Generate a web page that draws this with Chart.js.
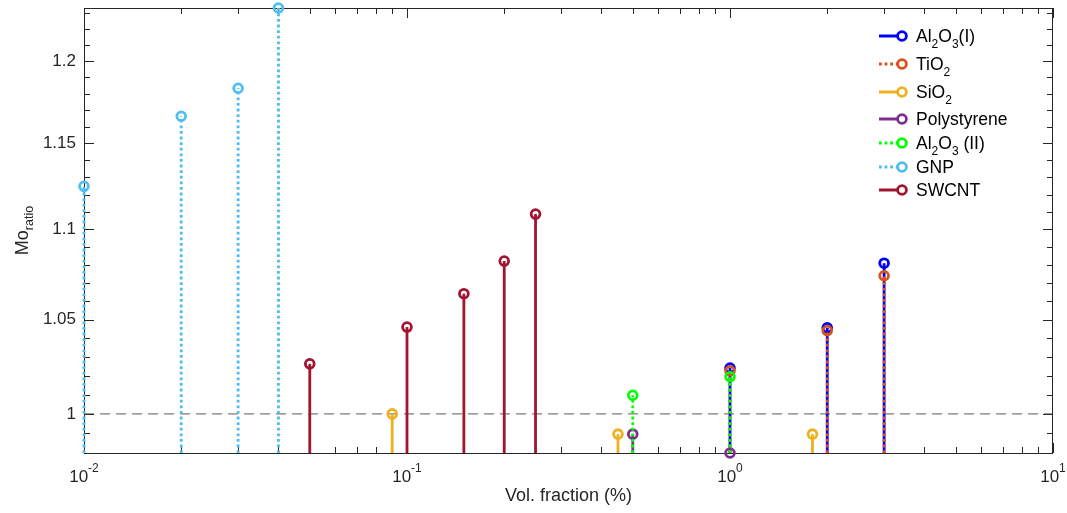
<!DOCTYPE html>
<html>
<head>
<meta charset="utf-8">
<title>Mo ratio vs volume fraction</title>
<script src="https://cdn.jsdelivr.net/npm/chart.js@4.4.0/dist/chart.umd.min.js"></script>
<style>
    html, body { margin: 0; padding: 0; background: #fff; }
    #wrap {
        position: relative;
        width: 1067px;
        height: 513px;
        font-family: "Liberation Sans", Arial, Helvetica, sans-serif;
    }
    #legend .row {
        position: absolute;
        left: 878px;
        height: 20px;
        display: flex;
        align-items: center;
        font-size: 17.5px;
        line-height: 20px;
        color: #000;
        white-space: nowrap;
    }
    #legend svg { display: block; margin-right: 0; }
    #legend sub {
        font-size: 12px;
        line-height: 0;
        vertical-align: baseline;
        position: relative;
        top: 6px;
    }
</style>
</head>
<body>
<div id="wrap">
    <canvas id="chart" width="1067" height="513"></canvas>
    <div id="legend"></div>
</div>
<script>
/* ========================================
   Mo ratio stem chart
   ======================================== */

// ---- data ----
const al2o3IFrac = [1, 2, 3];
const al2o3IMo = [1.024, 1.0455, 1.081];

const tio2Frac = [1, 2, 3];
const tio2Mo = [1.0225, 1.044, 1.074];

const sio2Frac = [0.09, 0.45, 1.8];
const sio2Mo = [1.0, 0.9896, 0.9896];

const polyFrac = [0.5, 1];
const polyMo = [0.9896, 0.98];

const al2o3IIFrac = [0.5, 1];
const al2o3IIMo = [1.0097, 1.0194];

const gnpFrac = [0.01, 0.02, 0.03, 0.04];
const gnpMo = [1.1248, 1.1663, 1.1833, 1.2334];

const swcntFrac = [0.05, 0.1, 0.15, 0.2, 0.25];
const swcntMo = [1.0262, 1.0459, 1.0641, 1.0822, 1.1088];

// reference line Mo = 1
const refFrac = [0.01, 10];
const refMo = [1, 1];

// ---- axes ----
const xMin = 0.01;
const xMax = 10;
const xMajorTicks = [0.01, 0.1, 1, 10];
const xMajorExp = ['-2', '-1', '0', '1'];
const xMinorTicks = [0.02, 0.03, 0.04, 0.05, 0.06, 0.07, 0.08, 0.09,
                     0.2, 0.3, 0.4, 0.5, 0.6, 0.7, 0.8, 0.9,
                     2, 3, 4, 5, 6, 7, 8, 9];

const yMin = 0.98;
const yMax = 1.2334;
const yMajorTicks = [1, 1.05, 1.1, 1.15, 1.2];
const yTickLabels = ['1', '1.05', '1.1', '1.15', '1.2'];
const yMinorTicks = [0.99, 1.01, 1.02, 1.03, 1.04, 1.06, 1.07, 1.08, 1.09,
                     1.11, 1.12, 1.13, 1.14, 1.16, 1.17, 1.18, 1.19,
                     1.21, 1.22, 1.23];

// ---- legend ----
const legendLabels = [
    'Al<sub>2</sub>O<sub>3</sub>(I)',
    'TiO<sub>2</sub>',
    'SiO<sub>2</sub>',
    'Polystyrene',
    'Al<sub>2</sub>O<sub>3</sub> (II)',
    'GNP',
    'SWCNT'
];
const legendRowY = [36, 64, 92, 119, 143, 167, 190];

const colors = {
    al2o3I: '#0000FF',
    tio2: '#D95319',
    sio2: '#EDB120',
    poly: '#7E2F8E',
    al2o3II: '#00FF00',
    gnp: '#4DBEEE',
    swcnt: '#A2142F'
};
const AXIS_COLOR = '#262626';
const FONT = '"Liberation Sans", Arial, Helvetica, sans-serif';
const DOT = [2.8, 2.8];

function toPoints(xs, ys) {
    return xs.map((x, i) => ({ x: x, y: ys[i] }));
}

function stemSeries(label, xs, ys, color, dotted, order) {
    return {
        type: 'scatter',
        label: label,
        data: toPoints(xs, ys),
        borderColor: color,
        backgroundColor: 'rgba(0,0,0,0)',
        pointBorderColor: color,
        pointBackgroundColor: 'rgba(0,0,0,0)',
        pointRadius: 4.4,
        pointHoverRadius: 4.4,
        pointBorderWidth: 2.8,
        pointHoverBorderWidth: 2.8,
        showLine: false,
        clip: false,
        order: order,
        stem: true,
        stemDash: dotted ? DOT : []
    };
}

const series = [
    { key: 'al2o3I', label: 'Al2O3(I)', xs: al2o3IFrac, ys: al2o3IMo, dotted: false },
    { key: 'tio2', label: 'TiO2', xs: tio2Frac, ys: tio2Mo, dotted: true },
    { key: 'sio2', label: 'SiO2', xs: sio2Frac, ys: sio2Mo, dotted: false },
    { key: 'poly', label: 'Polystyrene', xs: polyFrac, ys: polyMo, dotted: false },
    { key: 'al2o3II', label: 'Al2O3 (II)', xs: al2o3IIFrac, ys: al2o3IIMo, dotted: true },
    { key: 'gnp', label: 'GNP', xs: gnpFrac, ys: gnpMo, dotted: true },
    { key: 'swcnt', label: 'SWCNT', xs: swcntFrac, ys: swcntMo, dotted: false }
];

// later series drawn on top (lower order = drawn later)
const datasets = [{
    type: 'line',
    label: 'ref',
    data: toPoints(refFrac, refMo),
    borderColor: 'rgba(60,60,60,0.85)',
    borderWidth: 1,
    borderDash: [10, 6],
    pointRadius: 0,
    order: 20
}].concat(series.map((s, i) => stemSeries(s.label, s.xs, s.ys, colors[s.key], s.dotted, 10 - i)));

// stems from the axis bottom up to each marker
const stemPlugin = {
    id: 'stems',
    beforeDatasetDraw(chart, args) {
        const ds = chart.data.datasets[args.index];
        if (!ds.stem) return;
        const ctx = chart.ctx;
        const base = chart.scales.y.getPixelForValue(yMin);
        ctx.save();
        ctx.strokeStyle = ds.borderColor;
        ctx.lineWidth = 2.8;
        ctx.lineCap = 'butt';
        ctx.setLineDash(ds.stemDash);
        args.meta.data.forEach(pt => {
            ctx.beginPath();
            ctx.moveTo(pt.x, base);
            ctx.lineTo(pt.x, pt.y);
            ctx.stroke();
        });
        ctx.restore();
    }
};

// box with inward ticks on all four sides, x labels with exponents, y title
const framePlugin = {
    id: 'frame',
    beforeDatasetsDraw(chart) {
        const { ctx, chartArea } = chart;
        const { left, right, top, bottom } = chartArea;
        const xs = chart.scales.x;
        const ys = chart.scales.y;
        ctx.save();
        ctx.strokeStyle = AXIS_COLOR;
        ctx.lineWidth = 1;
        ctx.strokeRect(left + 0.5, top + 0.5, right - left - 1, bottom - top);

        ctx.beginPath();
        const xTick = (v, len) => {
            const px = Math.round(xs.getPixelForValue(v)) + 0.5;
            ctx.moveTo(px, bottom); ctx.lineTo(px, bottom - len);
            ctx.moveTo(px, top); ctx.lineTo(px, top + len);
        };
        const yTick = (v, len) => {
            const py = Math.round(ys.getPixelForValue(v)) + 0.5;
            ctx.moveTo(left, py); ctx.lineTo(left + len, py);
            ctx.moveTo(right, py); ctx.lineTo(right - len, py);
        };
        xMajorTicks.forEach(v => xTick(v, 10));
        xMinorTicks.forEach(v => xTick(v, 6));
        yMajorTicks.forEach(v => yTick(v, 10));
        yMinorTicks.forEach(v => yTick(v, 6));
        ctx.stroke();
        ctx.restore();
    },
    afterDraw(chart) {
        const { ctx, chartArea } = chart;
        const xs = chart.scales.x;
        ctx.save();
        ctx.fillStyle = AXIS_COLOR;
        ctx.textBaseline = 'alphabetic';
        ctx.textAlign = 'left';

        // x tick labels: 10 with superscript exponent
        xMajorTicks.forEach((v, i) => {
            ctx.font = '17px ' + FONT;
            const wBase = ctx.measureText('10').width;
            ctx.font = '12px ' + FONT;
            const wExp = ctx.measureText(xMajorExp[i]).width;
            const x0 = xs.getPixelForValue(v) - (wBase + wExp) / 2;
            ctx.font = '17px ' + FONT;
            ctx.fillText('10', x0, 482);
            ctx.font = '12px ' + FONT;
            ctx.fillText(xMajorExp[i], x0 + wBase, 472);
        });

        // y title: Mo with subscript "ratio"
        const cy = (chartArea.top + chartArea.bottom) / 2;
        ctx.translate(28, cy);
        ctx.rotate(-Math.PI / 2);
        ctx.font = '18px ' + FONT;
        const wMo = ctx.measureText('Mo').width;
        ctx.font = '12.5px ' + FONT;
        const wSub = ctx.measureText('ratio').width;
        const start = -(wMo + wSub) / 2;
        ctx.font = '18px ' + FONT;
        ctx.fillText('Mo', start, 0);
        ctx.font = '12.5px ' + FONT;
        ctx.fillText('ratio', start + wMo, 5);
        ctx.restore();
    }
};

new Chart(document.getElementById('chart'), {
    type: 'scatter',
    data: { datasets: datasets },
    options: {
        responsive: false,
        animation: false,
        devicePixelRatio: 1,
        events: [],
        layout: { padding: { left: 0, right: 14, top: 8, bottom: 0 } },
        plugins: {
            legend: { display: false },
            tooltip: { enabled: false }
        },
        scales: {
            x: {
                type: 'logarithmic',
                position: 'bottom',
                min: xMin,
                max: xMax,
                grid: { display: false, drawTicks: false },
                border: { display: false },
                ticks: { display: false },
                title: {
                    display: true,
                    text: 'Vol. fraction (%)',
                    color: AXIS_COLOR,
                    font: { family: FONT, size: 18 },
                    padding: { top: 0, bottom: 6 }
                },
                afterFit(scale) {
                    scale.height = 60;
                    scale.paddingLeft = 0;
                    scale.paddingRight = 0;
                }
            },
            y: {
                type: 'logarithmic',
                position: 'left',
                min: yMin,
                max: yMax,
                grid: { display: false, drawTicks: false },
                border: { display: false },
                afterBuildTicks(scale) {
                    scale.ticks = yMajorTicks.map(v => ({ value: v, major: true }));
                },
                ticks: {
                    autoSkip: false,
                    padding: 8,
                    color: AXIS_COLOR,
                    font: { family: FONT, size: 17 },
                    callback: function (value) {
                        const i = yMajorTicks.indexOf(value);
                        return i >= 0 ? yTickLabels[i] : '';
                    }
                },
                afterFit(scale) {
                    scale.width = 84;
                    scale.paddingTop = 0;
                    scale.paddingBottom = 0;
                }
            }
        }
    },
    plugins: [framePlugin, stemPlugin]
});

// HTML legend with subscripts
const legendEl = document.getElementById('legend');
series.forEach((s, i) => {
    const c = colors[s.key];
    const dash = s.dotted ? 'stroke-dasharray="' + DOT.join(' ') + '"' : '';
    const row = document.createElement('div');
    row.className = 'row';
    row.style.top = (legendRowY[i] - 10) + 'px';
    row.innerHTML =
        '<svg width="38" height="20" viewBox="0 0 38 20">' +
        '<line x1="1" y1="10" x2="20" y2="10" stroke="' + c + '" stroke-width="3" ' + dash + '/>' +
        '<circle cx="24" cy="10" r="4.4" fill="none" stroke="' + c + '" stroke-width="2.8"/>' +
        '</svg><span>' + legendLabels[i] + '</span>';
    legendEl.appendChild(row);
});
</script>
</body>
</html>
